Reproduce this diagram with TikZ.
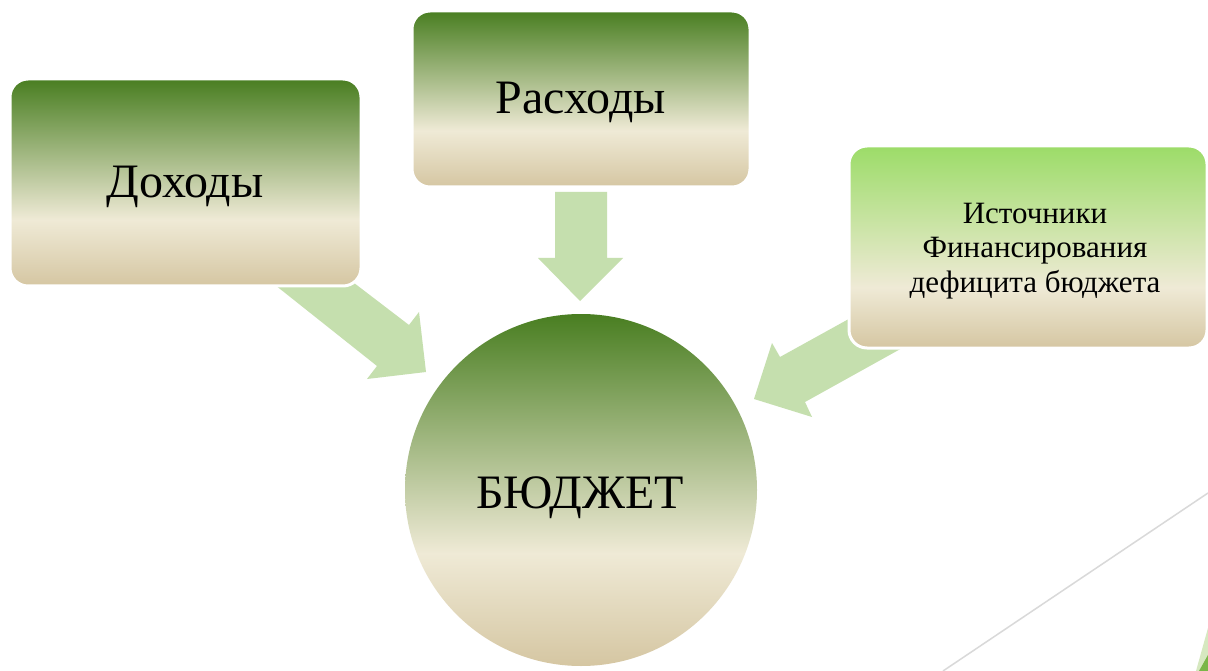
\documentclass[tikz,border=0pt]{standalone}
\usepackage{fontspec}
\setmainfont{Liberation Serif}
\definecolor{dkgreen}{RGB}{73,126,33}
\definecolor{ltgreen}{RGB}{156,220,104}
\definecolor{creamc}{RGB}{239,234,214}
\definecolor{tanc}{RGB}{213,198,162}
\definecolor{arrowc}{RGB}{197,223,174}
\definecolor{linec}{RGB}{217,217,217}
\definecolor{cornerlt}{RGB}{214,232,192}
\definecolor{cornerdk}{RGB}{122,182,72}
\pgfdeclareverticalshading{darkshade}{100bp}{color(0bp)=(tanc); color(25bp)=(tanc); color(41bp)=(creamc); color(75bp)=(dkgreen); color(100bp)=(dkgreen)}
\pgfdeclareverticalshading{lightshade}{100bp}{color(0bp)=(tanc); color(25bp)=(tanc); color(40bp)=(creamc); color(75bp)=(ltgreen); color(100bp)=(ltgreen)}
\tikzset{
  boxnode/.style={rectangle, rounded corners=18pt, draw=white, line width=3pt, inner sep=0pt, shade},
  bigtext/.style={font=\fontsize{48}{58}\selectfont, anchor=base, inner sep=0pt},
  blockarrow/.style={fill=arrowc, draw=none},
}
\begin{document}
\begin{tikzpicture}[x=1pt,y=-1pt]
\useasboundingbox[fill=white] (0,0) rectangle (1208,671);
% decorative corner elements
\coordinate (dl1) at (943,671);
\coordinate (dl2) at (1208,493);
\draw[linec, line width=1.5pt] (dl1) -- (dl2);
\fill[cornerlt] (1196,671) -- (1208,628) -- (1208,671) -- cycle;
\fill[cornerdk] (1199,671) -- (1208,655) -- (1208,671) -- cycle;
% block arrows
\fill[blockarrow] (265,277) -- (377,366) -- (367,379) -- (426,372) -- (419,312) -- (409,325) -- (341,273) -- cycle;
\fill[blockarrow] (555,192) -- (607,192) -- (607,258) -- (623,258) -- (580,301) -- (538,258) -- (555,258) -- cycle;
\fill[blockarrow] (865,310) -- (780,357) -- (772,343) -- (754,399) -- (812,417) -- (805,402) -- (913,342) -- cycle;
% boxes
\node[boxnode, shading=darkshade, minimum width=351pt, minimum height=207pt] (inc) at (185.5,182.5) {};
\node[boxnode, shading=darkshade, minimum width=338pt, minimum height=176pt] (exp) at (581,99) {};
\node[boxnode, shading=lightshade, minimum width=358pt, minimum height=202pt] (src) at (1028,247) {};
\node[circle, shade, shading=darkshade, minimum size=352pt, inner sep=0pt] (bud) at (581,490) {};
% texts
\node[bigtext] (incT) at (185,198) {Доходы};
\node[bigtext] (expT) at (581,114) {Расходы};
\node[bigtext] (budT) at (580,508) {БЮДЖЕТ};
\node[font=\fontsize{31}{34.5}\selectfont, align=center, inner sep=0pt] (srcT) at (1035,251) {Источники\\Финансирования\\дефицита бюджета};
\end{tikzpicture}
\end{document}
